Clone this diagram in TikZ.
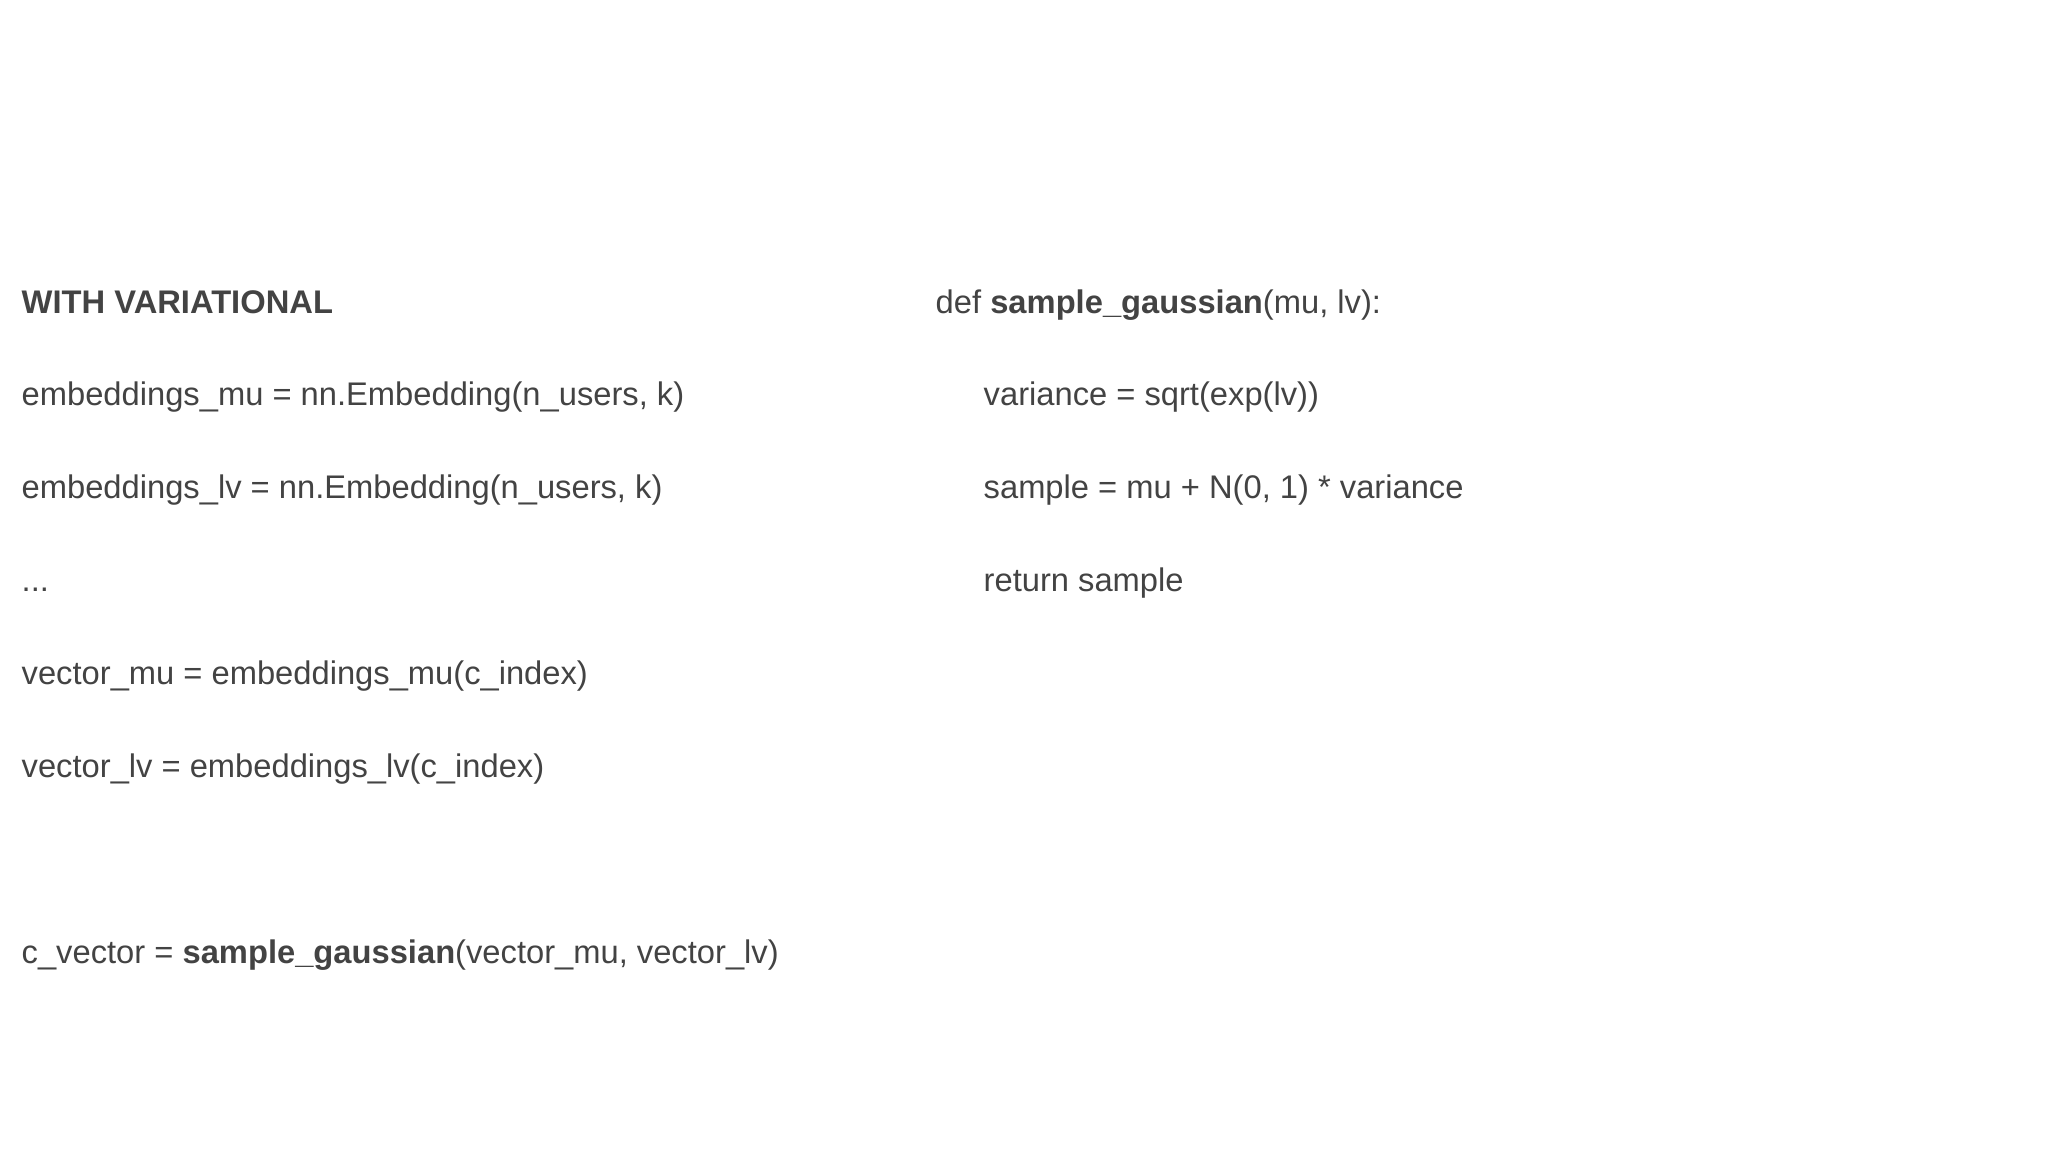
\documentclass[tikz,border=0pt]{standalone}
\usepackage{fontspec}
\setmainfont{Liberation Sans}
\definecolor{txt}{HTML}{434343}
\begin{document}
\begin{tikzpicture}[x=0.01cm,y=-0.01cm,
  code/.style={anchor=base west,inner sep=0pt,text=txt,font=\fontsize{9.3pt}{11pt}\selectfont}]
\useasboundingbox (0,0) rectangle (2048,1152);
\node[code] (t) at (21,314) {\textbf{WITH VARIATIONAL}};
\node[code] (a) at (21,406) {embeddings\_mu = nn.Embedding(n\_users, k)};
\node[code] (b) at (21,499) {embeddings\_lv = nn.Embedding(n\_users, k)};
\node[code] (c) at (21,592) {...};
\node[code] (d) at (21,685) {vector\_mu = embeddings\_mu(c\_index)};
\node[code] (e) at (21,777) {vector\_lv = embeddings\_lv(c\_index)};
\node[code] (f) at (21,963) {c\_vector = \textbf{sample\_gaussian}(vector\_mu, vector\_lv)};
\node[code] (g) at (935,314) {def \textbf{sample\_gaussian}(mu, lv):};
\node[code] (h) at (983,406) {variance = sqrt(exp(lv))};
\node[code] (i) at (983,499) {sample = mu + N(0, 1) * variance};
\node[code] (j) at (983,592) {return sample};
\end{tikzpicture}
\end{document}
